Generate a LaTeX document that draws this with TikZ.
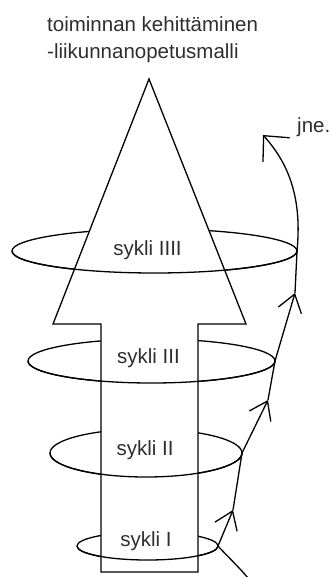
\documentclass[tikz,border=0pt]{standalone}
\usepackage{fontspec}
\setmainfont{Liberation Sans}
\usetikzlibrary{arrows.meta}
\begin{document}
\begin{tikzpicture}[x=1pt,y=-1pt,
  line/.style={line width=1.3pt,black},
  lbl/.style={font=\fontsize{20.5}{27}\selectfont,text=black!82,inner sep=0pt},
  barb/.style={-{Straight Barb[length=17pt,width=24pt,line width=1.3pt]}},
  bigbarb/.style={-{Straight Barb[length=19pt,width=36pt,line width=1.3pt]}}]
\useasboundingbox (0,0) rectangle (330,577);
% ellipse centres
\coordinate (c4) at (154.5,251);
\coordinate (c3) at (151.5,361);
\coordinate (c2) at (146,453);
\coordinate (c1) at (147.5,546);
% full ellipses
\draw[line] (c4) ellipse [x radius=142.5pt, y radius=22pt];
\draw[line] (c3) ellipse [x radius=123.5pt, y radius=22pt];
\draw[line] (c2) ellipse [x radius=96pt, y radius=24pt];
\draw[line] (c1) ellipse [x radius=70.5pt, y radius=14pt];
% the big arrow
\draw[line,fill=white] (149,79) -- (246,324) -- (198,324) -- (198,572)
  -- (101,572) -- (101,324) -- (53,324) -- cycle;
% front halves of the ellipses
\draw[line] (12,251) arc[start angle=180, end angle=360, x radius=142.5pt, y radius=22pt];
\draw[line] (28,361) arc[start angle=180, end angle=360, x radius=123.5pt, y radius=22pt];
\draw[line] (50,453) arc[start angle=180, end angle=360, x radius=96pt, y radius=24pt];
\draw[line] (77,546) arc[start angle=180, end angle=360, x radius=70.5pt, y radius=14pt];
% labels
\node[lbl,anchor=north west,align=left] (title) at (47,16.5)
  {toiminnan kehittäminen\\-liikunnanopetusmalli};
\node[lbl] (s4) at (147.5,250) {sykli IIII};
\node[lbl] (s3) at (148.5,358) {sykli III};
\node[lbl] (s2) at (145,450) {sykli II};
\node[lbl] (s1) at (146,541) {sykli I};
\node[lbl,anchor=base west] (jne) at (297,133) {jne.};
% spiral path
\coordinate (s) at (248,578);
\coordinate (r1) at (218,546);
\coordinate (a1) at (233,510);
\coordinate (r2) at (242,453);
\coordinate (a2) at (268,400);
\coordinate (r3) at (275,361);
\coordinate (a3) at (295,293);
\coordinate (r4) at (297,251);
\coordinate (tip) at (263,135);
\draw[line] (s) .. controls (238,566) and (226,555) .. (r1);
\draw[line,barb] (r1) -- (a1);
\draw[line] (a1) -- (r2);
\draw[line,barb] (r2) -- (a2);
\draw[line] (a2) -- (r3);
\draw[line,barb] (r3) -- (a3);
\draw[line] (a3) -- (r4);
\draw[line,bigbarb] (r4) .. controls (302,200) and (290,165) .. (tip);
\end{tikzpicture}
\end{document}
